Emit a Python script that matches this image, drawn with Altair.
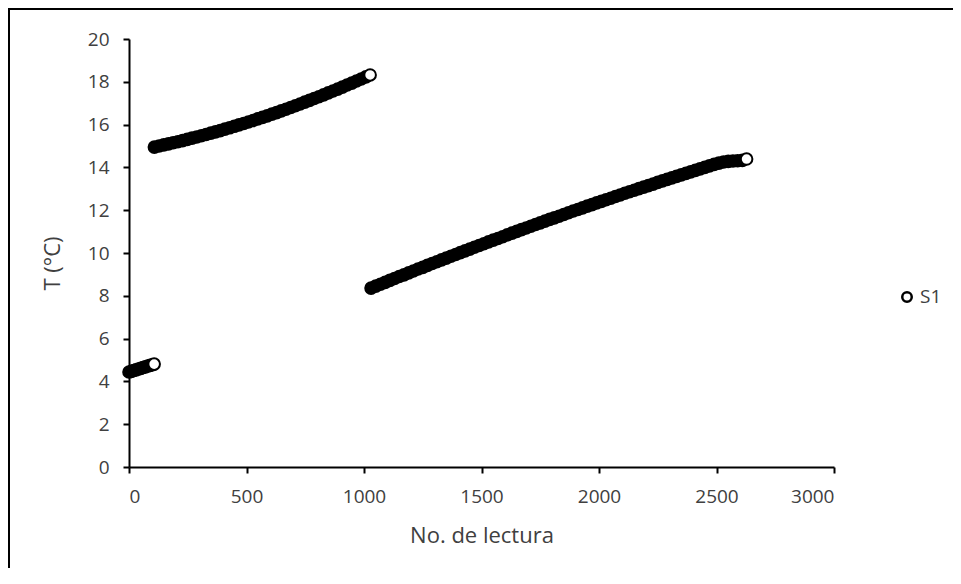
import altair as alt
import pandas as pd

# ---- data ----
seg1_reading = [0, 10, 20, 30, 40, 50, 60, 70, 80, 90, 100, 107]
seg1_temp = [4.44, 4.47, 4.51, 4.54, 4.58, 4.61, 4.65, 4.68, 4.72, 4.75, 4.78, 4.81]

seg2_reading = [108, 128, 148, 168, 188, 208, 228, 248, 268, 288, 308, 328, 348, 368, 388,
                408, 428, 448, 468, 488, 508, 528, 548, 568, 588, 608, 628, 648, 668, 688,
                708, 728, 748, 768, 788, 808, 828, 848, 868, 888, 908, 928, 948, 968, 988,
                1008, 1026]
seg2_temp = [14.95, 15.00, 15.05, 15.10, 15.15, 15.20, 15.25, 15.31, 15.37, 15.42, 15.48,
             15.54, 15.60, 15.66, 15.72, 15.79, 15.85, 15.92, 15.99, 16.05, 16.12, 16.19,
             16.27, 16.34, 16.41, 16.49, 16.56, 16.64, 16.72, 16.80, 16.88, 16.96, 17.05,
             17.13, 17.22, 17.30, 17.39, 17.48, 17.57, 17.66, 17.75, 17.85, 17.94, 18.04,
             18.13, 18.23, 18.32]

seg3_reading = [1030, 1050, 1070, 1090, 1110, 1130, 1150, 1170, 1190, 1210, 1230, 1250, 1270,
                1290, 1310, 1330, 1350, 1370, 1390, 1410, 1430, 1450, 1470, 1490, 1510, 1530,
                1550, 1570, 1590, 1610, 1630, 1650, 1670, 1690, 1710, 1730, 1750, 1770, 1790,
                1810, 1830, 1850, 1870, 1890, 1910, 1930, 1950, 1970, 1990, 2010, 2030, 2050,
                2070, 2090, 2110, 2130, 2150, 2170, 2190, 2210, 2230, 2250, 2270, 2290, 2310,
                2330, 2350, 2370, 2390, 2410, 2430, 2450, 2470, 2490, 2510, 2530, 2550, 2570,
                2590, 2610, 2628]
seg3_temp = [8.36, 8.45, 8.54, 8.63, 8.72, 8.81, 8.90, 8.98, 9.07, 9.16, 9.25, 9.33, 9.42,
             9.51, 9.59, 9.68, 9.76, 9.85, 9.93, 10.02, 10.10, 10.18, 10.27, 10.35, 10.43,
             10.52, 10.60, 10.68, 10.76, 10.85, 10.93, 11.01, 11.09, 11.17, 11.25, 11.33,
             11.41, 11.49, 11.57, 11.64, 11.72, 11.80, 11.88, 11.96, 12.03, 12.11, 12.19,
             12.26, 12.34, 12.41, 12.49, 12.56, 12.64, 12.71, 12.79, 12.86, 12.93, 13.01,
             13.08, 13.15, 13.22, 13.30, 13.37, 13.44, 13.51, 13.58, 13.65, 13.72, 13.79,
             13.86, 13.93, 14.00, 14.07, 14.14, 14.20, 14.25, 14.28, 14.30, 14.31, 14.33,
             14.39]

series_name = "S1"
x_ticks = [0, 500, 1000, 1500, 2000, 2500, 3000]
y_ticks = [0, 2, 4, 6, 8, 10, 12, 14, 16, 18, 20]
x_title = "No. de lectura"
y_title = "T (°C)"

segments = [(seg1_reading, seg1_temp), (seg2_reading, seg2_temp), (seg3_reading, seg3_temp)]
rows = []
for r_list, t_list in segments:
    n = len(r_list)
    for i, (r, t) in enumerate(zip(r_list, t_list)):
        # the densely overlapped markers read as a solid black band; only the
        # final marker of each run shows its white face
        rows.append({"reading": r, "temp": t, "face": "top" if i == n - 1 else "under"})
df = pd.DataFrame(rows)
df["order"] = range(len(df))

FONT = "Open Sans"
LABEL_COLOR = "#404040"
W, H = 705, 428
PAD_L, PAD_T = 121, 31
TOTAL_W, TOTAL_H = 945, 560

points = alt.Chart(df).mark_point(
    shape="circle", filled=True, stroke="black", strokeWidth=2,
    size=135, opacity=1
).encode(
    x=alt.X("reading:Q", scale=alt.Scale(domain=[0, 3000], nice=False),
            axis=alt.Axis(values=x_ticks, title=x_title, grid=False, format="d",
                          titleY=68, titleBaseline="middle",
                          labelPadding=14)),
    y=alt.Y("temp:Q", scale=alt.Scale(domain=[0, 20], nice=False),
            axis=alt.Axis(values=y_ticks, title=y_title, grid=False, format="d",
                          titleX=-77, titleY=224, titleBaseline="middle",
                          titleAlign="center", labelPadding=14)),
    fill=alt.condition(alt.datum.face == "top", alt.value("white"), alt.value("black")),
    order=alt.Order("order:Q"),
)

one = pd.DataFrame({"label": [series_name]})

legend_pt = alt.Chart(one).mark_point(
    shape="circle", filled=True, fill="white", stroke="black", strokeWidth=2.5, size=90, opacity=1
).encode(x=alt.value(778), y=alt.value(258))

legend_txt = alt.Chart(one).mark_text(
    align="left", baseline="middle", font=FONT, fontSize=19, color=LABEL_COLOR
).encode(x=alt.value(791), y=alt.value(258), text="label:N")

frame_left = alt.Chart(one).mark_rule(color="black", strokeWidth=2).encode(
    x=alt.value(-120), y=alt.value(-30), y2=alt.value(TOTAL_H - PAD_T + 5))
frame_top = alt.Chart(one).mark_rule(color="black", strokeWidth=2).encode(
    x=alt.value(-121), x2=alt.value(TOTAL_W - PAD_L + 5), y=alt.value(-30))

chart = alt.layer(frame_left, frame_top, points, legend_pt, legend_txt).properties(
    width=W, height=H,
    autosize=alt.AutoSizeParams(type="none"),
    padding={"left": PAD_L, "top": PAD_T, "right": TOTAL_W - PAD_L - W,
             "bottom": TOTAL_H - PAD_T - H},
    background="white",
).configure_view(stroke=None).configure_axis(
    domainColor="black", domainWidth=2, tickColor="black", tickWidth=2, tickSize=6,
    labelFont=FONT, labelFontSize=19, labelColor=LABEL_COLOR,
    titleFont=FONT, titleFontSize=22, titleColor=LABEL_COLOR, titleFontWeight="normal",
)

chart.save("out.html", embed_options={"renderer": "svg", "actions": False})
